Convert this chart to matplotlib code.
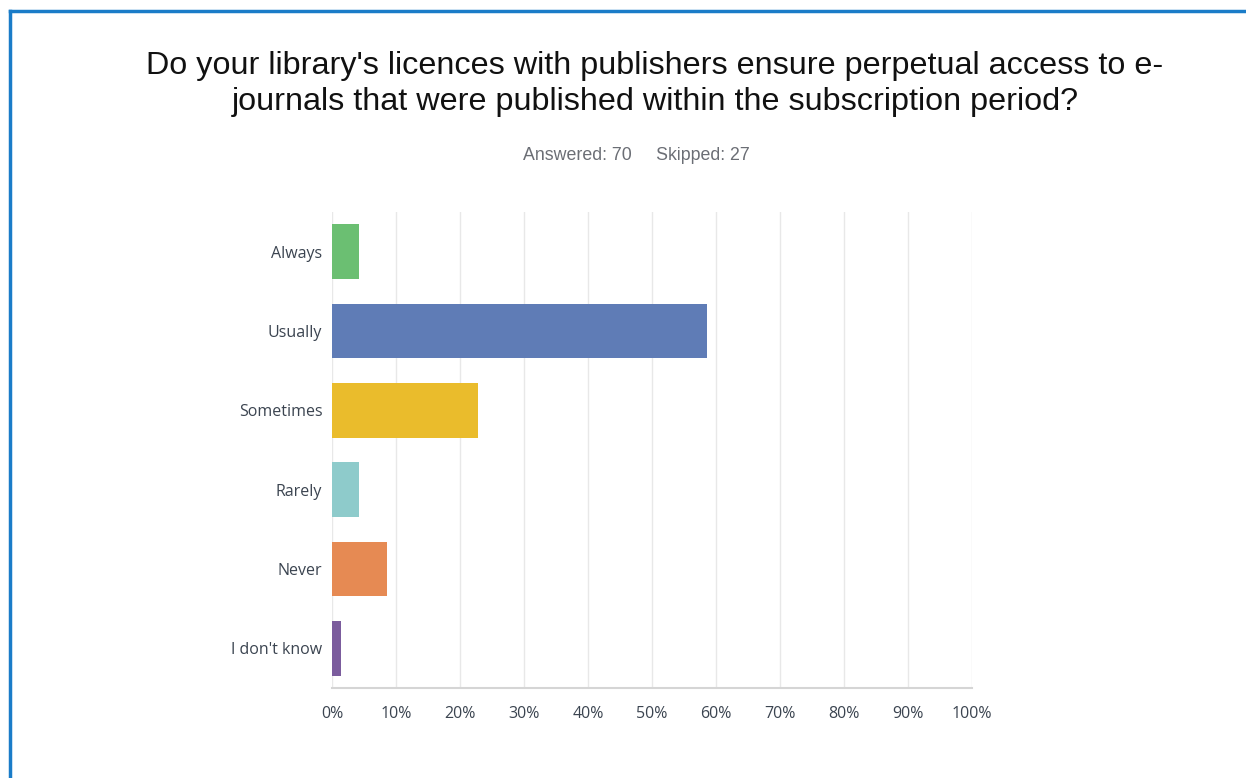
import numpy as np
import matplotlib.pyplot as plt
from matplotlib.lines import Line2D

# survey responses (70 answered)
categories = ["Always", "Usually", "Sometimes", "Rarely", "Never", "I don't know"]
percent = [4.29, 58.57, 22.86, 4.29, 8.57, 1.43]
bar_colors = ["#6bbf72", "#5f7cb6", "#eabc2c", "#8ecbcb", "#e68a53", "#7b5c9d"]
xticks = np.arange(0, 101, 10)
xtick_labels = [f"{t}%" for t in xticks]

title = ("Do your library's licences with publishers ensure perpetual access to e-\n"
         "journals that were published within the subscription period?")
subtitle = "Answered: 70     Skipped: 27"

fig = plt.figure(figsize=(12.46, 7.78), dpi=100)
ax = fig.add_axes([332 / 1246, 1 - 688 / 778, 640 / 1246, 476 / 778])

y = np.arange(len(categories))
ax.barh(y, percent, height=0.69, color=bar_colors, zorder=3)
ax.set_ylim(len(categories) - 0.5, -0.5)
ax.set_xlim(0, 100)

ax.set_xticks(xticks)
ax.set_xticklabels(xtick_labels)
ax.set_yticks(y)
ax.set_yticklabels(categories)
ax.tick_params(axis="both", length=0, labelsize=11.5, labelcolor="#3b4450")
ax.tick_params(axis="x", pad=13)
ax.tick_params(axis="y", pad=7)
for lbl in ax.get_xticklabels() + ax.get_yticklabels():
    lbl.set_family("Open Sans")

ax.grid(axis="x", color="#e8e8e8", linewidth=1.0, zorder=0)
for side in ["top", "right", "left"]:
    ax.spines[side].set_visible(False)
ax.spines["bottom"].set_color("#d5d5d5")
ax.spines["bottom"].set_linewidth(1.5)

fig.text(655 / 1246, 1 - 84 / 778, title, ha="center", va="center", fontsize=23.3,
         family="Liberation Sans", color="#111111", linespacing=1.3)
fig.text(636 / 1246, 1 - 155 / 778, subtitle, ha="center", va="center", fontsize=12.8,
         family="Liberation Sans", color="#6b6e75")

# blue frame on top and left
fig.add_artist(Line2D([10 / 1246, 10 / 1246], [0, 1 - 11 / 778], transform=fig.transFigure,
                      color="#1a7cc8", linewidth=2.5))
fig.add_artist(Line2D([10 / 1246, 1], [1 - 11 / 778, 1 - 11 / 778], transform=fig.transFigure,
                      color="#1a7cc8", linewidth=2.5))

fig.savefig("out.png", dpi=100)
